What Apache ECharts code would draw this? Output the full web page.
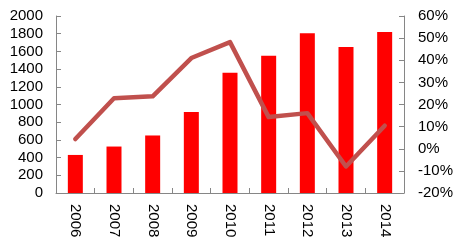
<!DOCTYPE html>
<html>
<head>
<meta charset="utf-8">
<script src="https://cdn.jsdelivr.net/npm/echarts@6/dist/echarts.min.js"></script>
<style>html,body{margin:0;padding:0;background:#fff}#c{width:459px;height:242px}</style>
</head>
<body>
<div id="c"></div>
<script>
var categories = ['2006','2007','2008','2009','2010','2011','2012','2013','2014'];
var barValues = [430, 525, 650, 915, 1360, 1550, 1805, 1650, 1820];
var growthValues = [4.4, 22.8, 23.7, 41, 48.2, 14.3, 16.1, -8, 10.4];

var chart = echarts.init(document.getElementById('c'));
var axisLine = {show: true, lineStyle: {color: '#868686', width: 1}};
var font = 'Liberation Sans, Arial, sans-serif';
chart.setOption({
  animation: false,
  grid: {left: 56, right: 55, top: 16, bottom: 49, containLabel: false},
  xAxis: {
    type: 'category', data: categories,
    axisLine: axisLine,
    axisTick: {show: true, inside: true, length: 5, lineStyle: {color: '#868686'}},
    axisLabel: {rotate: -90, margin: 11, color: '#000', fontSize: 15, fontFamily: font}
  },
  yAxis: [
    {type: 'value', min: 0, max: 2000, interval: 200,
     axisLine: axisLine,
     axisTick: {show: true, inside: true, length: 5, lineStyle: {color: '#868686'}},
     splitLine: {show: false},
     axisLabel: {color: '#000', fontSize: 15, margin: 13, fontFamily: font,
                 formatter: function (v) { return String(v); }}},
    {type: 'value', min: -20, max: 60, interval: 10,
     axisLine: axisLine,
     axisTick: {show: true, inside: true, length: 5, lineStyle: {color: '#868686'}},
     splitLine: {show: false},
     axisLabel: {color: '#000', fontSize: 15, margin: 14, fontFamily: font, formatter: '{value}%'}}
  ],
  series: [
    {type: 'bar', data: barValues, barWidth: 15, itemStyle: {color: '#FF0000'}},
    {type: 'line', yAxisIndex: 1, data: growthValues, symbol: 'none',
     lineStyle: {color: '#C0504D', width: 4.5, cap: 'round', join: 'round'}}
  ]
});
</script>
</body>
</html>
